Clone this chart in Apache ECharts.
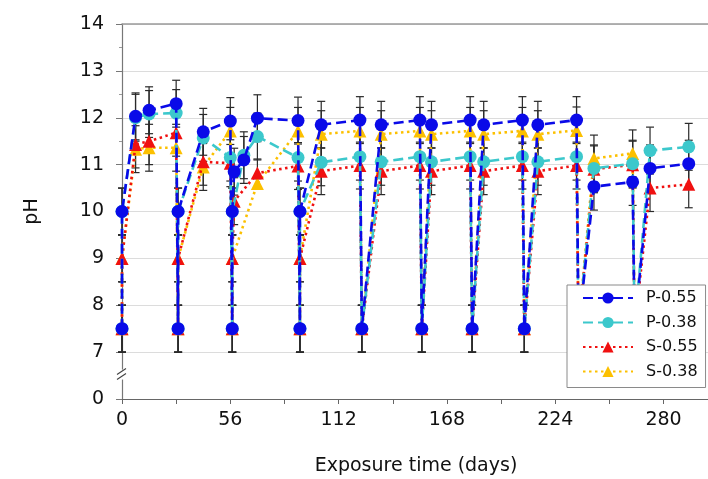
<!DOCTYPE html>
<html><head><meta charset="utf-8">
<script src="https://cdn.jsdelivr.net/npm/echarts@6/dist/echarts.min.js"></script>
<style>html,body{margin:0;padding:0;background:#fff}#c{width:708px;height:479px}</style>
</head><body><div id="c"></div>
<script>
// Exposure time (days) of every measurement
const days = [0,0,7,14,28,29,29,42,56,57,57,58,63,70,91,92,92,103,123,124,134,154,155,160,180,181,187,207,208,215,235,236,244,264,265,273,293];
// pH values per series (null = no point)
const p055 = [7.5,10,12.03,12.16,12.3, 7.5,10,11.7,11.93,7.5, 10,10.85,11.1,11.99,11.94, 7.5,10,11.85,11.95,7.5, 11.85,11.95,7.5,11.85,11.95, 7.5,11.85,11.95,7.5,11.85, 11.95,7.5,10.53,10.63,7.5, 10.92,11.02];
const p038 = [7.5,10,12.0,12.08,12.1, 7.5,10,11.57,11.15,7.5, 10,null,11.2,11.6,11.15, 7.5,10,11.05,11.17,7.5, 11.06,11.17,7.5,11.06,11.17, 7.5,11.06,11.17,7.5,11.06, 11.17,7.5,10.92,11.02,7.5, 11.3,11.38];
const s055 = [7.5,9,11.43,11.5,11.68, 7.5,9,11.06,11.03,7.5, 9,10.22,null,10.82,10.97, 7.5,9,10.86,10.98,7.5, 10.86,10.98,7.5,10.86,10.98, 7.5,10.86,10.98,7.5,10.86, 10.98,7.5,10.9,11.0,7.5, 10.5,10.58];
const s038 = [7.5,9,11.33,11.36,11.36, 7.5,9,10.95,11.72,7.5, 9,null,null,10.6,11.72, 7.5,9,11.65,11.72,7.5, 11.65,11.72,7.5,11.65,11.72, 7.5,11.65,11.72,7.5,11.65, 11.73,7.5,11.13,11.24,7.5, null,null];
// Half-widths of the error bars
const e055 = [0.5,0.5,0.5,0.5,0.5, 0.5,0.5,0.5,0.5,0.5, 0.5,0.5,0.5,0.5,0.5, 0.5,0.5,0.5,0.5,0.5, 0.5,0.5,0.5,0.5,0.5, 0.5,0.5,0.5,0.5,0.5, 0.5,0.5,0.5,0.5,0.5, 0.5,0.5];
const e038 = [0.5,0.5,0.5,0.5,0.5, 0.5,0.5,0.5,0.5,0.5, 0.5,0.5,0.5,0.5,0.5, 0.5,0.5,0.5,0.5,0.5, 0.5,0.5,0.5,0.5,0.5, 0.5,0.5,0.5,0.5,0.5, 0.5,0.5,0.5,0.5,0.5, 0.5,0.5];
const es055 = [0.5,0.5,0.5,0.5,0.5, 0.5,0.5,0.5,0.5,0.5, 0.5,0.5,0.5,0.3,0.5, 0.5,0.5,0.5,0.5,0.5, 0.5,0.5,0.5,0.5,0.5, 0.5,0.5,0.5,0.5,0.5, 0.5,0.5,0.5,0.5,0.5, 0.5,0.5];
const es038 = [0.5,0.5,0.5,0.5,0.5, 0.5,0.5,0.5,0.5,0.5, 0.5,0.5,0.5,0.1,0.5, 0.5,0.5,0.5,0.5,0.5, 0.5,0.5,0.5,0.5,0.5, 0.5,0.5,0.5,0.5,0.5, 0.5,0.5,0.5,0.5,0.5, 0.5,0.5];
const seriesNames = ['P-0.55','P-0.38','S-0.55','S-0.38'];
const xTickLabels = [0,56,112,168,224,280];
const yBreakLabel = '0';

const FONT = 'DejaVu Sans';
function pts(vals){ return days.map((d,i)=> vals[i]==null?null:[d,vals[i]]).filter(Boolean); }
function errs(vals,e){ return days.map((d,i)=> vals[i]==null?null:[d,vals[i]-e[i],vals[i]+e[i]]).filter(Boolean); }
const errData = [].concat(errs(s038,es038), errs(s055,es055), errs(p038,e038), errs(p055,e055));

function errorItem(params, api){
  const x = api.value(0), lo = api.value(1), hi = api.value(2);
  const a = api.coord([x, lo]), b = api.coord([x, hi]);
  const w = 4, st = {stroke:'#2a2a2a', lineWidth:1.2};
  return {type:'group', children:[
    {type:'line', shape:{x1:a[0],y1:a[1],x2:b[0],y2:b[1]}, style:st},
    {type:'line', shape:{x1:a[0]-w,y1:a[1],x2:a[0]+w,y2:a[1]}, style:st},
    {type:'line', shape:{x1:b[0]-w,y1:b[1],x2:b[0]+w,y2:b[1]}, style:st}
  ]};
}

const colors = {'P-0.55':'#0a0ae8','P-0.38':'#3cc8cc','S-0.55':'#f01010','S-0.38':'#fcc000'};
function lineSeries(name, vals, sym, dash, z){
  return {name, type:'line', data:pts(vals), symbol:sym, symbolSize:13,
    itemStyle:{color:colors[name]}, lineStyle:{color:colors[name], width:2.6, type:dash},
    connectNulls:true, z, xAxisIndex:0, animation:false};
}

const chart = echarts.init(document.getElementById('c'));
chart.setOption({
  animation:false,
  backgroundColor:'#fff',
  grid:{left:122, top:24, right:-2, bottom:80, show:false, containLabel:false, outerBoundsMode:'none'},
  legend:{orient:'vertical', left:567, top:285, data:seriesNames, z:20,
    itemWidth:50, itemHeight:14, itemGap:8.5,
    backgroundColor:'#fff', borderColor:'#8a8a8a', borderWidth:1, borderRadius:0,
    padding:[5,8,8,15],
    textStyle:{fontSize:16, color:'#111', fontFamily:FONT, padding:[0,0,0,8]}},
  xAxis:[{type:'value', min:0, max:304, interval:28,
    name:'Exposure time (days)', nameLocation:'middle', nameGap:58,
    nameTextStyle:{fontSize:19, color:'#111', fontFamily:FONT},
    axisLine:{lineStyle:{color:'#666', width:1.2}},
    axisTick:{length:5, lineStyle:{color:'#666'}},
    axisLabel:{fontSize:19, color:'#111', fontFamily:FONT, margin:12,
      formatter:v=> xTickLabels.indexOf(v)>=0 ? String(v) : ''},
    splitLine:{show:false}},
   {type:'value', position:'top', min:0, max:304, show:true,
    axisLine:{show:true, onZero:false, lineStyle:{color:'#9a9a9a', width:1.6}},
    axisTick:{show:false}, axisLabel:{show:false}, splitLine:{show:false}}],
  yAxis:{type:'value', min:6, max:14, interval:1,
    name:'pH', nameLocation:'middle', nameGap:80, nameRotate:90,
    nameTextStyle:{fontSize:19, color:'#111', fontFamily:FONT},
    axisLine:{show:true, lineStyle:{color:'#777', width:1.2}},
    axisTick:{show:true, length:6, lineStyle:{color:'#777'}},
    minorTick:{show:true, splitNumber:2, length:3, lineStyle:{color:'#999'}},
    axisLabel:{fontSize:19, color:'#111', fontFamily:FONT, margin:18,
      formatter:v=> v===6 ? yBreakLabel : (Number.isInteger(v)? String(v) : '')},
    splitLine:{show:true, lineStyle:{color:'#dcdcdc', width:1}}},
  series:[
    {type:'custom', name:'err', renderItem:errorItem, data:errData, z:1, silent:true, animation:false},
    lineSeries('S-0.38', s038, 'triangle', [2.5,3.5], 2),
    lineSeries('S-0.55', s055, 'triangle', [2.5,3.5], 3),
    lineSeries('P-0.38', p038, 'circle', [10,5], 4),
    lineSeries('P-0.55', p055, 'circle', [10,5], 5)
  ]
});

// axis break marks on the y axis between 0 and 7
const bp = chart.convertToPixel({gridIndex:0}, [0, 6.5]);
chart.setOption({graphic:[
  {type:'rect', shape:{x:bp[0]-7, y:bp[1]-6, width:14, height:10}, style:{fill:'#fff'}, z:100},
  {type:'line', shape:{x1:bp[0]-5, y1:bp[1]-1, x2:bp[0]+4, y2:bp[1]-7}, style:{stroke:'#444', lineWidth:1.2}, z:101},
  {type:'line', shape:{x1:bp[0]-5, y1:bp[1]+4, x2:bp[0]+4, y2:bp[1]-2}, style:{stroke:'#444', lineWidth:1.2}, z:101}
]});
</script></body></html>
